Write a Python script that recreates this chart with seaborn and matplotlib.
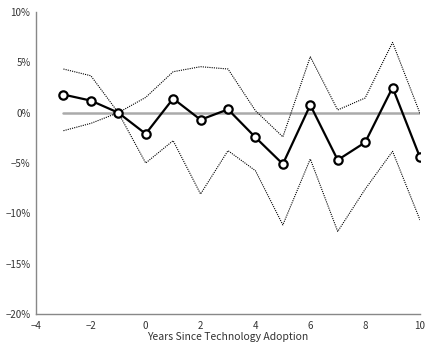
import matplotlib
matplotlib.use("Agg")
import matplotlib.pyplot as plt
import seaborn as sns
import pandas as pd
import numpy as np

years = [-3, -2, -1, 0, 1, 2, 3, 4, 5, 6, 7, 8, 9, 10]
estimate = [1.8, 1.2, 0.0, -2.1, 1.4, -0.7, 0.33, -2.45, -5.1, 0.76, -4.7, -2.95, 2.5, -4.44]
upper = [4.34, 3.67, 0.0, 1.52, 4.07, 4.57, 4.34, 0.2, -2.4, 5.56, 0.27, 1.46, 6.98, -0.07]
lower = [-1.79, -1.06, 0.0, -5.0, -2.78, -8.08, -3.77, -5.76, -11.15, -4.6, -11.8, -7.6, -3.84, -10.66]
zero_line = [0.0] * len(years)
yticks = [-20, -15, -10, -5, 0, 5, 10]
ytick_labels = ["\u221220%", "\u221215%", "\u221210%", "\u22125%", "0%", "5%", "10%"]
xticks = [-4, -2, 0, 2, 4, 6, 8, 10]
xtick_labels = ["\u22124", "\u22122", "0", "2", "4", "6", "8", "10"]
xlabel = "Years Since Technology Adoption"

sns.set_style("white")
plt.rcParams['font.family'] = ['Noto Sans CJK JP', 'DejaVu Sans']

df = pd.DataFrame({"year": years, "est": estimate, "up": upper, "lo": lower, "zero": zero_line})

fig = plt.figure(figsize=(4.27, 3.44), dpi=100)
ax = fig.add_axes([0.0843, 0.0872, 0.8993, 0.8778])

sns.lineplot(data=df, x="year", y="zero", ax=ax, color="#aaaaaa", linewidth=1.8)
sns.lineplot(data=df, x="year", y="up", ax=ax, color="black", linewidth=0.8, linestyle=(0, (1, 1)))
sns.lineplot(data=df, x="year", y="lo", ax=ax, color="black", linewidth=0.8, linestyle=(0, (1, 1)))
sns.lineplot(data=df, x="year", y="est", ax=ax, color="black", linewidth=1.6,
             marker="o", markersize=6, markerfacecolor="white", markeredgecolor="black",
             markeredgewidth=1.6)

ax.set_xlim(-4, 10)
ax.set_ylim(-20, 10)
ax.set_xticks(xticks)
ax.set_xticklabels(xtick_labels)
ax.set_yticks(yticks)
ax.set_yticklabels(ytick_labels)
ax.set_xlabel(xlabel, fontsize=7.5, labelpad=1, color="#333333")
ax.set_ylabel("")
ax.tick_params(axis="both", direction="in", length=3, width=0.8, labelsize=7, colors="#555555",
               labelcolor="#333333")
ax.tick_params(axis="x", pad=5)
ax.tick_params(axis="y", pad=4)
for s in ["top", "right"]:
    ax.spines[s].set_visible(False)
for s in ["left", "bottom"]:
    ax.spines[s].set_color("#888888")
    ax.spines[s].set_linewidth(1.0)

fig.savefig("out.png", dpi=100)
